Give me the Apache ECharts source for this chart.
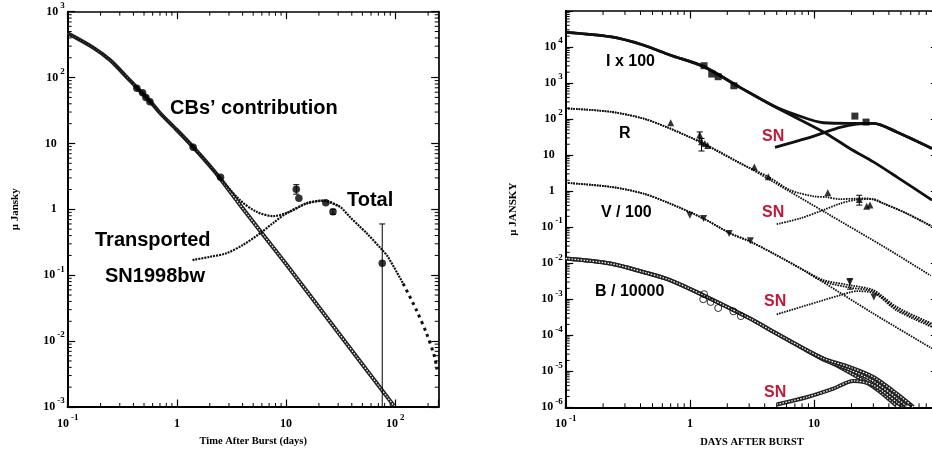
<!DOCTYPE html>
<html>
<head>
<meta charset="utf-8">
<title>CB model light curves</title>
<script src="https://cdn.jsdelivr.net/npm/echarts@6/dist/echarts.min.js"></script>
<style>
  html, body { margin: 0; padding: 0; background: #fff; }
  #chart { width: 932px; height: 451px; }
</style>
</head>
<body>
<div id="chart"></div>
<script>
// ---------- left panel (R band, GRB 980425 / SN1998bw) ----------
const leftCB = [[0.1, 470], [0.171, 285], [0.244, 185], [0.347, 102], [0.43, 70], [0.566, 44], [0.7, 29], [1.0, 16], [1.41, 8.8], [2.0, 4.6], [2.47, 3.0], [4.34, 0.87], [10, 0.148], [30, 0.0135], [97, 0.00105]];
const leftTotal = [[0.1, 470], [0.171, 285], [0.244, 185], [0.347, 102], [0.43, 70], [0.566, 44], [0.7, 29], [1.0, 16], [1.41, 8.8], [2.0, 4.6], [2.47, 3.05], [3.77, 1.39], [5.36, 0.92], [7.6, 0.79], [10.8, 0.92], [15.4, 1.24], [21.8, 1.36], [31, 1.1], [38.3, 0.77], [47.2, 0.55], [54.3, 0.44], [76, 0.242], [85.7, 0.19], [118, 0.075]];
const leftTotalTail = [[118, 0.075], [156, 0.0297], [193, 0.0132], [229, 0.0058], [241, 0.0037]];
const leftSN = [[1.39, 0.17], [2.0, 0.19], [2.85, 0.216], [4.05, 0.29], [5.74, 0.43], [7.6, 0.62], [10.1, 0.87], [15.4, 1.22], [21.8, 1.35], [31, 1.1]];
const leftObs = [[0.43, 69], [0.485, 59], [0.52, 50], [0.566, 43], [1.41, 8.75], [2.51, 3.07], [12.4, 2.02], [13.1, 1.47], [23.1, 1.26], [26.9, 0.92], [76, 0.152]];
const leftErr = [[12.4, 1.7, 2.37], [26.9, 0.84, 1.0], [76, 0.001, 0.6]];

// ---------- right panel (I x 100, R, V / 100, B / 10000) ----------
const iCB = [[0.1, 25600], [0.228, 19300], [0.42, 11400], [0.69, 6000], [1.28, 2900], [2.53, 760], [4.7, 230], [11.9, 44], [19.4, 15.3], [30, 6.5], [46.2, 2.5], [89, 0.56]];
const iTotal = [[0.1, 25600], [0.228, 19300], [0.42, 11400], [0.69, 6000], [1.28, 2900], [2.53, 760], [4.7, 235], [7.25, 129], [11.9, 79], [19.4, 76], [30, 76], [46.2, 44], [89, 15.3]];
const iSN = [[4.84, 16.4], [8.7, 29], [11.9, 41.6], [16.2, 58.8], [22, 72.6], [30, 76], [46.2, 44], [89, 15.3]];
const iObs = [[1.3, 3030], [1.5, 1780], [1.69, 1500], [2.26, 840], [21.3, 121], [26.2, 82.6]];

const rCB = [[0.1, 198], [0.228, 160], [0.42, 104], [0.69, 55], [1.28, 21], [3.05, 4.3], [4.7, 1.8], [12.6, 0.245], [38.5, 0.0256], [87, 0.0045]];
const rTotal = [[0.1, 198], [0.228, 160], [0.42, 104], [0.69, 55], [1.28, 21], [2.53, 5.9], [4.28, 2.5], [6.4, 1.07], [9.87, 0.72], [12.6, 0.68], [16.2, 0.6], [22, 0.62], [26.5, 0.63], [36, 0.46], [55.6, 0.24], [88, 0.108]];
const rSN = [[5.0, 0.121], [7.7, 0.175], [11.9, 0.3], [16.2, 0.45], [22, 0.58], [30, 0.6], [36, 0.46], [55.6, 0.24], [88, 0.105]];
const rObs = [[0.7, 79], [1.2, 36], [1.24, 23.4], [1.32, 21], [1.39, 18.5], [3.3, 4.7], [4.28, 2.5], [12.9, 0.9], [23.1, 0.59], [26.5, 0.38], [28.2, 0.41]];
const rErr = [[1.2, 26, 44], [1.24, 13, 29], [23.1, 0.41, 0.77]];

const vCB = [[0.1, 1.7], [0.228, 1.32], [0.42, 0.86], [0.69, 0.455], [1.28, 0.175], [2.1, 0.068], [3.05, 0.04], [4.7, 0.0186], [8.7, 0.0057], [30, 0.0004], [89, 0.000043]];
const vTotal = [[0.1, 1.7], [0.228, 1.32], [0.42, 0.86], [0.69, 0.455], [1.28, 0.175], [2.1, 0.068], [3.05, 0.04], [4.7, 0.0186], [8.7, 0.0058], [11.9, 0.0034], [19.4, 0.00245], [30, 0.00178], [46.2, 0.00061], [89, 0.00021]];
const vTotal2 = [[8.7, 0.0057], [11.9, 0.0031], [19.4, 0.0021], [30, 0.00163], [46.2, 0.00054], [89, 0.00019]];
const vSN = [[5.0, 0.00038], [8.7, 0.00068], [16.2, 0.00129], [22, 0.00167], [30, 0.0015], [46.2, 0.00049], [89, 0.00017]];
const vObs = [[1.0, 0.215], [1.29, 0.175], [2.07, 0.067], [3.07, 0.042], [19.4, 0.003], [30.3, 0.00116]];
const vErr = [[19.4, 0.0019, 0.0037]];

const bCB = [[0.1, 0.0135], [0.228, 0.0098], [0.42, 0.0057], [0.69, 0.0034], [1.28, 0.00129], [3.05, 0.00029], [4.7, 0.000125], [8.7, 0.000038], [16.2, 0.000013], [30, 0.0000037], [46.2, 0.0000011]];
const bTotal = [[0.1, 0.0135], [0.228, 0.0098], [0.42, 0.0057], [0.69, 0.0034], [1.28, 0.00129], [3.05, 0.00029], [4.7, 0.000125], [8.7, 0.000039], [11.9, 0.0000225], [19.4, 0.000013], [30, 0.0000069], [46.2, 0.0000024], [63, 0.00000102]];
const bTotal2 = [[8.7, 0.000038], [11.9, 0.000021], [19.4, 0.000011], [30, 0.0000053], [46.2, 0.0000018], [55.6, 0.00000105]];
const bSN = [[5.0, 0.0000012], [8.7, 0.0000019], [14.3, 0.0000033], [20.7, 0.0000054], [30, 0.0000041], [46.2, 0.0000014], [52, 0.000001]];
const bObs = [[1.3, 0.00138], [1.28, 0.001], [1.47, 0.00084], [1.69, 0.00057], [2.24, 0.00046], [2.57, 0.00034]];

// decades used for the log-spaced minor ticks
const leftXDecades = [0.1, 1, 10, 100];
const leftYDecades = [0.001, 0.01, 0.1, 1, 10, 100];
const rightXDecades = [0.1, 1, 10];
const rightYDecades = [1e-6, 1e-5, 1e-4, 1e-3, 1e-2, 0.1, 1, 10, 100, 1000, 10000];

const SERIF = '"Liberation Serif", "DejaVu Serif", serif';
const SANS = '"Liberation Sans", Arial, sans-serif';
const SN_RED = '#c4173a';

const chart = echarts.init(document.getElementById('chart'));

// "10" with a raised exponent, as in the original plot
const powLabel = (v, spacer, hide) => {
  const lg = Math.log10(v);
  const e = Math.round(lg);
  if (Math.abs(lg - e) > 0.01 || (hide && hide.indexOf(e) >= 0)) return '';
  if (e === 0) return '{b|1}' + (spacer ? '{sp|}' : '');
  if (e === 1) return '{b|10}' + (spacer ? '{sp|}' : '');
  return '{b|10}{s|' + e + '}';
};

const tickRich = {
  b: { fontFamily: SERIF, fontWeight: 'bold', fontSize: 12, color: '#000', lineHeight: 22 },
  s: { fontFamily: SERIF, fontWeight: 'bold', fontSize: 9, color: '#000', padding: [0, 0, 12, 2] },
  sp: { width: 8 }
};

const logAxis = (gridIndex, position, min, max, opts) => {
  opts = opts || {};
  const lw = { bottom: 2.2, left: 2, top: 1.5, right: 1.7 }[position];
  const axis = {
    type: 'log',
    logBase: 10,
    gridIndex: gridIndex,
    position: position,
    min: min,
    max: max,
    axisLine: { show: true, onZero: false, lineStyle: { color: '#000', width: lw } },
    axisTick: { show: true, inside: true, length: 7.5, lineStyle: { color: '#000', width: 1.2 } },
    axisLabel: { show: false },
    splitLine: { show: false }
  };
  if (opts.interval) axis.interval = opts.interval;
  if (opts.label) {
    const vertical = position === 'left';
    axis.axisLabel = {
      show: true,
      margin: vertical ? 3 : 6,
      formatter: (v) => powLabel(v, vertical, opts.hide),
      rich: tickRich
    };
  }
  if (opts.name) {
    const vertical = position === 'left';
    axis.name = opts.name;
    axis.nameLocation = 'middle';
    axis.nameGap = vertical ? 47 : 29;
    axis.nameTextStyle = { fontFamily: SERIF, fontWeight: 'bold', fontSize: vertical ? 11 : 10.5, color: '#000' };
  }
  return axis;
};

// minor ticks at 2..9 of every decade, drawn on both sides of the frame
const minorValues = (decades, max) => {
  const out = [];
  decades.forEach((d) => {
    for (let m = 2; m <= 9; m++) if (d * m < max) out.push(d * m);
  });
  return out;
};

const minorTicks = (g, dim, values, ref) => ({
  type: 'custom',
  xAxisIndex: g * 2,
  yAxisIndex: g * 2,
  silent: true,
  clip: false,
  z: 6,
  data: values.map((v) => (dim === 'x' ? [v, ref] : [ref, v])),
  renderItem: (params, api) => {
    const cs = params.coordSys;
    const p = api.coord([api.value(0), api.value(1)]);
    const st = { stroke: '#000', lineWidth: 1 };
    if (dim === 'x') {
      const yb = cs.y + cs.height;
      return { type: 'group', children: [
        { type: 'line', shape: { x1: p[0], y1: yb, x2: p[0], y2: yb - 4 }, style: st },
        { type: 'line', shape: { x1: p[0], y1: cs.y, x2: p[0], y2: cs.y + 4 }, style: st }
      ] };
    }
    const xr = cs.x + cs.width;
    return { type: 'group', children: [
      { type: 'line', shape: { x1: cs.x, y1: p[1], x2: cs.x + 4, y2: p[1] }, style: st },
      { type: 'line', shape: { x1: xr, y1: p[1], x2: xr - 4, y2: p[1] }, style: st }
    ] };
  }
});

const errorBars = (g, data) => ({
  type: 'custom',
  xAxisIndex: g * 2,
  yAxisIndex: g * 2,
  silent: true,
  z: 3,
  data: data,
  encode: { x: 0, y: [1, 2] },
  renderItem: (params, api) => {
    const lo = api.coord([api.value(0), api.value(1)]);
    const hi = api.coord([api.value(0), api.value(2)]);
    const st = { stroke: '#000', lineWidth: 1 };
    return { type: 'group', children: [
      { type: 'line', shape: { x1: lo[0], y1: lo[1], x2: hi[0], y2: hi[1] }, style: st },
      { type: 'line', shape: { x1: hi[0] - 3, y1: hi[1], x2: hi[0] + 3, y2: hi[1] }, style: st },
      { type: 'line', shape: { x1: lo[0] - 3, y1: lo[1], x2: lo[0] + 3, y2: lo[1] }, style: st }
    ] };
  }
});

const curve = (g, data, lineStyle, z) => ({
  type: 'line',
  xAxisIndex: g * 2,
  yAxisIndex: g * 2,
  data: data,
  showSymbol: false,
  smooth: 0.3,
  silent: true,
  z: z || 2,
  lineStyle: Object.assign({ color: '#111' }, lineStyle)
});

// chain of hollow markers: dark band with a broken white core
const chain = (g, data) => [
  curve(g, data, { width: 4, color: '#222' }, 2),
  curve(g, data, { width: 1.2, color: '#fff', type: [1.5, 1.5] }, 2)
];

const dotted = { width: 1.8, type: [1.6, 1] };

const points = (g, data, symbol, size, extra) => Object.assign({
  type: 'scatter',
  xAxisIndex: g * 2,
  yAxisIndex: g * 2,
  data: data,
  symbol: symbol,
  symbolSize: size,
  silent: true,
  z: 4,
  itemStyle: { color: '#000' }
}, extra || {});

const text = (x, y, str, size, color) => ({
  type: 'text',
  x: x,
  y: y,
  silent: true,
  style: { text: str, font: 'bold ' + size + 'px ' + SANS, fill: color || '#000', verticalAlign: 'middle' }
});

const option = {
  animation: false,
  backgroundColor: '#fff',
  grid: [
    { left: 67.7, top: 11.7, width: 371, height: 395.3, outerBoundsMode: 'none', containLabel: false },
    { left: 565.7, top: 11, width: 372.6, height: 396.3, outerBoundsMode: 'none', containLabel: false }
  ],
  xAxis: [
    logAxis(0, 'bottom', 0.1, 250, { label: true, name: 'Time After Burst (days)' }),
    logAxis(0, 'top', 0.1, 250),
    logAxis(1, 'bottom', 0.1, 100, { label: true, hide: [2], name: 'DAYS AFTER BURST' }),
    logAxis(1, 'top', 0.1, 100)
  ],
  yAxis: [
    logAxis(0, 'left', 0.001, 1000, { label: true, name: 'μ Jansky' }),
    logAxis(0, 'right', 0.001, 1000),
    logAxis(1, 'left', 1e-6, 1e5, { label: true, hide: [5], name: 'μ JANSKY', interval: 1 }),
    logAxis(1, 'right', 1e-6, 1e5, { interval: 1 })
  ],
  series: [
    minorTicks(0, 'x', minorValues(leftXDecades, 250), 1),
    minorTicks(0, 'y', minorValues(leftYDecades, 1000), 1),
    minorTicks(1, 'x', minorValues(rightXDecades, 100), 1),
    minorTicks(1, 'y', minorValues(rightYDecades, 1e5), 1),

    // left panel
    ...chain(0, leftCB),
    curve(0, leftTotal, { width: 2.2, type: [2, 1] }, 3),
    curve(0, leftTotalTail, { width: 3, type: [3, 4] }, 3),
    curve(0, leftSN, { width: 2.2, type: [2, 1] }, 3),
    errorBars(0, leftErr),
    points(0, leftObs, 'circle', 7.5),

    // right panel
    curve(1, iCB, { width: 2.8 }),
    curve(1, iSN, { width: 2.8 }),
    curve(1, iTotal, { width: 2.8 }),
    points(1, iObs, 'rect', 7),

    curve(1, rCB, dotted),
    curve(1, rSN, dotted),
    curve(1, rTotal, dotted),
    errorBars(1, rErr),
    points(1, rObs, 'triangle', 7),

    curve(1, vCB, dotted),
    curve(1, vSN, dotted),
    curve(1, vTotal2, dotted),
    curve(1, vTotal, dotted),
    errorBars(1, vErr),
    points(1, vObs, 'triangle', 7, { symbolRotate: 180 }),

    ...chain(1, bCB),
    ...chain(1, bSN),
    ...chain(1, bTotal2),
    ...chain(1, bTotal),
    points(1, bObs, 'circle', 7, { itemStyle: { color: 'rgba(0,0,0,0)', borderColor: '#000', borderWidth: 1 } })
  ],
  graphic: [
    text(170, 108, 'CBs’ contribution', 20),
    text(347, 200, 'Total', 20),
    text(95, 240, 'Transported', 20),
    text(105, 276, 'SN1998bw', 20),
    text(606, 62, 'I x 100', 16),
    text(619, 134, 'R', 16),
    text(601, 213, 'V / 100', 16),
    text(595, 292, 'B / 10000', 16),
    text(762, 137, 'SN', 16, SN_RED),
    text(762, 213, 'SN', 16, SN_RED),
    text(764, 302, 'SN', 16, SN_RED),
    text(764, 393, 'SN', 16, SN_RED)
  ]
};

chart.setOption(option);
</script>
</body>
</html>
